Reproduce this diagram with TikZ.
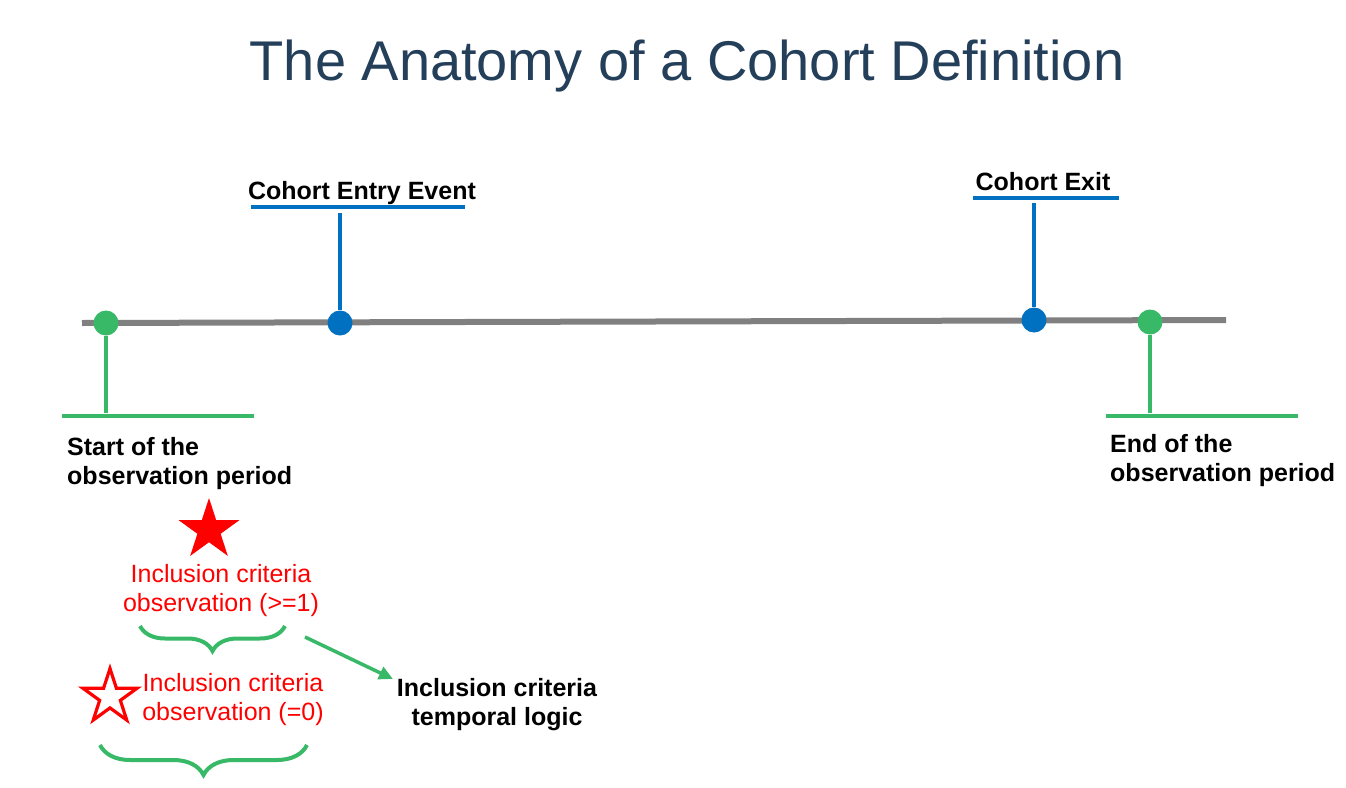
\documentclass[tikz,border=0pt]{standalone}
\usepackage{fontspec}
\setmainfont{Liberation Sans}
\usetikzlibrary{positioning,arrows.meta,shapes.geometric,decorations.pathreplacing}
\definecolor{anatitle}{RGB}{36,63,90}
\definecolor{anagray}{RGB}{128,128,128}
\definecolor{anagreen}{RGB}{56,185,104}
\definecolor{anablue}{RGB}{0,112,192}
\definecolor{anared}{RGB}{255,0,0}

\begin{document}
\begin{tikzpicture}[x=1pt,y=-1pt,
    dot/.style={circle,inner sep=0pt,minimum size=25pt,fill=#1},
    lbl/.style={inner sep=0pt,font=\fontsize{25}{29.5}\selectfont\bfseries,align=left},
    redlbl/.style={inner sep=0pt,font=\fontsize{25}{29.5}\selectfont,text=anared,align=center},
    bluerule/.style={anablue,line width=3.5pt},
    greenrule/.style={anagreen,line width=3.5pt},
    curly/.style={anagreen,line width=4pt,decorate,decoration={brace,mirror,amplitude=#1}}]
    \useasboundingbox (0,0) rectangle (1346,787);
    \fill[white] (0,0) rectangle (1346,787);
    % title
    \node[anchor=base,inner sep=0pt,text=anatitle,font=\fontsize{56}{60}\selectfont] (title) at (687,80) {The Anatomy of a Cohort Definition};
    % timeline
    \coordinate (tlstart) at (82,323);\coordinate (tlend) at (1226,320);
    \draw[anagray,line width=6pt] (tlstart) -- (tlend);
    \node[dot=anagreen] (startdot) at (106,323) {};
    \node[dot=anablue] (entrydot) at (340,323) {};
    \node[dot=anablue] (exitdot) at (1034,320) {};
    \node[dot=anagreen] (enddot) at (1150,322) {};
    % cohort entry and exit
    \node[lbl,anchor=base] (entry) at (362,199) {Cohort Entry Event};
    \coordinate (entryl) at (251,207);\coordinate (entryr) at (465,207);
    \draw[bluerule] (entryl) -- (entryr);
    \draw[bluerule,line width=4.5pt] (entrydot) -- (340,213);
    \node[lbl,anchor=base] (exit) at (1043,190) {Cohort Exit};
    \coordinate (exitl) at (973,198);\coordinate (exitr) at (1119,198);
    \draw[bluerule] (exitl) -- (exitr);
    \draw[bluerule,line width=4.5pt] (exitdot) -- (1034,203);
    % observation period
    \coordinate (startl) at (62,416);\coordinate (startr) at (254,416);
    \draw[greenrule] (startl) -- (startr);
    \draw[greenrule,line width=4.5pt] (startdot) -- (106,413);
    \node[lbl,anchor=north west] (start) at (67,437) {Start of the\\observation period};
    \coordinate (endl) at (1106,416);\coordinate (endr) at (1298,416);
    \draw[greenrule] (endl) -- (endr);
    \draw[greenrule,line width=4.5pt] (enddot) -- (1150,413);
    \node[lbl,anchor=north west] (end) at (1110,434) {End of the\\observation period};
    % inclusion criteria
    \node[star,star points=5,star point ratio=2.618,minimum size=64pt,inner sep=0pt,fill=anared] (fullstar) at (209,530) {};
    \node[redlbl,anchor=north] (incone) at (221,564) {Inclusion criteria\\observation (>=1)};
    \coordinate (bracea) at (140,626);\coordinate (braceb) at (285,626);
    \draw[curly=25pt] (bracea) -- (braceb);
    \node[star,star points=5,star point ratio=2.618,minimum size=57pt,inner sep=0pt,draw=anared,line width=3.2pt] (emptystar) at (110,697) {};
    \node[redlbl,anchor=north] (inczero) at (233,673) {Inclusion criteria\\observation (=0)};
    \coordinate (bracec) at (100,745);\coordinate (braced) at (307,745);
    \draw[curly=30pt] (bracec) -- (braced);
    \node[lbl,align=center,anchor=north] (temporal) at (497,678) {Inclusion criteria\\temporal logic};
    \coordinate (arrowtail) at (305,637);\coordinate (arrowhead) at (393,679);
    \draw[anagreen,line width=3.5pt,-{Triangle[length=14pt,width=13pt]}] (arrowtail) -- (arrowhead);
  \end{tikzpicture}
\end{document}
